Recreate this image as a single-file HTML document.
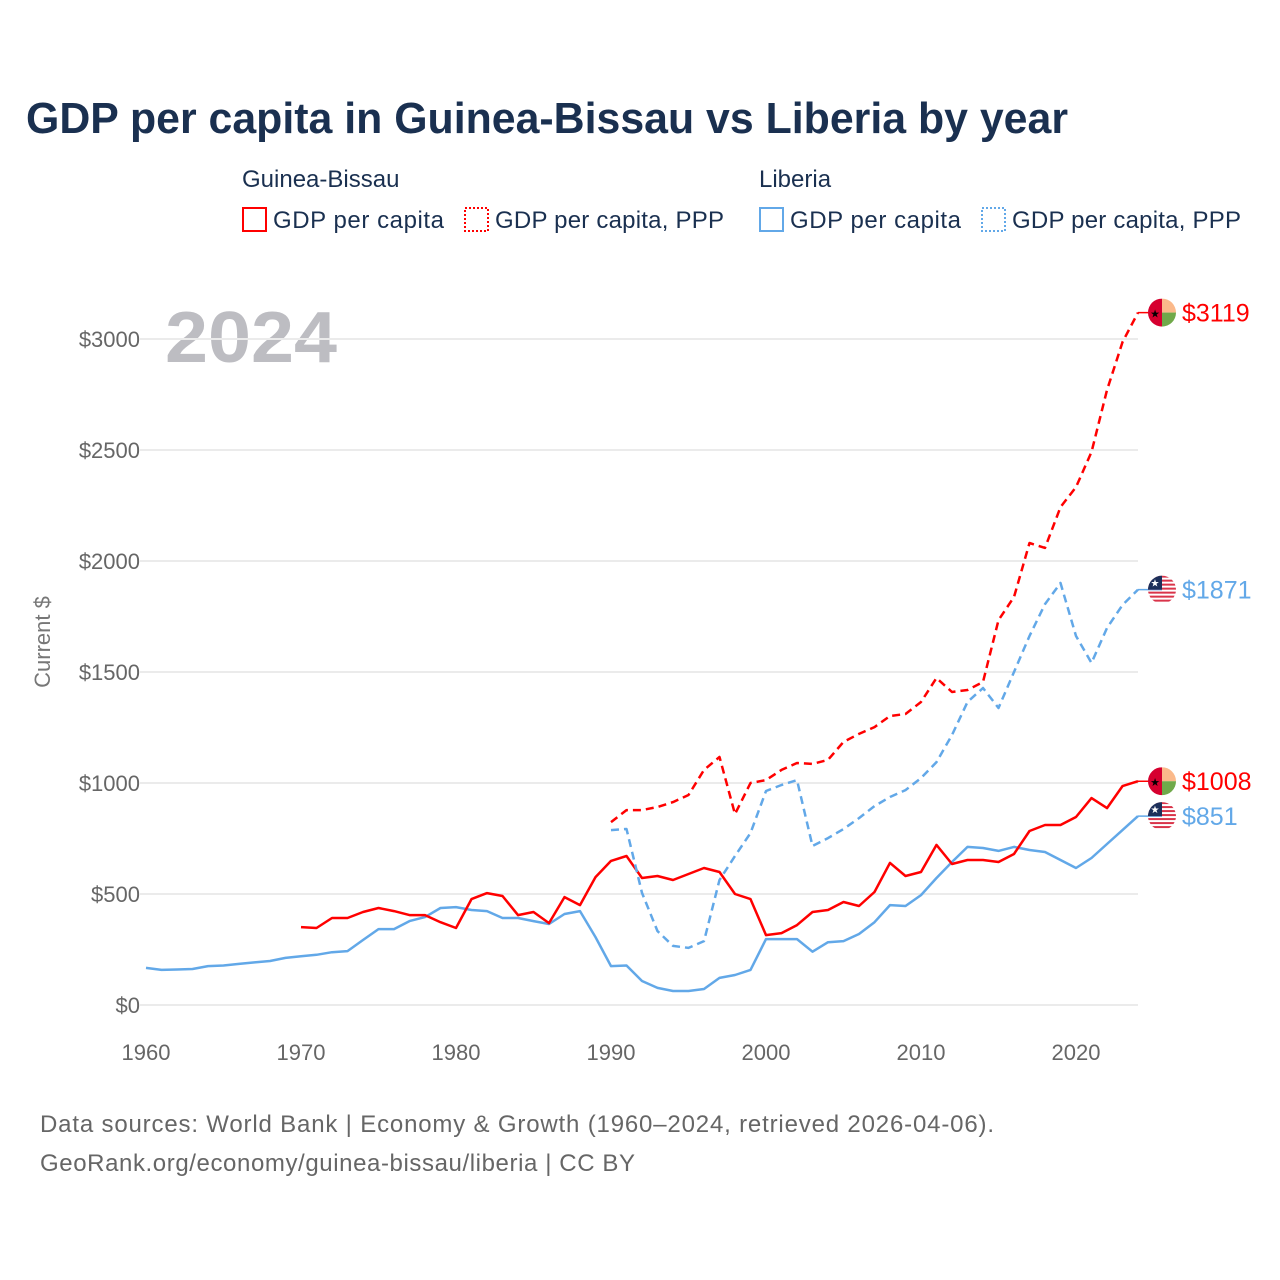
<!DOCTYPE html>
<html><head><meta charset="utf-8"><style>
body{margin:0;background:#fff;font-family:"Liberation Sans",sans-serif}
svg{display:block}
</style></head><body>
<svg width="1280" height="1280" viewBox="0 0 1280 1280" xmlns="http://www.w3.org/2000/svg">
<text x="26" y="133" font-size="44" font-weight="bold" fill="#1a3050" textLength="1042" lengthAdjust="spacingAndGlyphs">GDP per capita in Guinea-Bissau vs Liberia by year</text>
<g font-size="24" fill="#1a3050">
<text x="242" y="187">Guinea-Bissau</text>
<text x="759" y="187">Liberia</text>
<g><rect x="243" y="208" width="23" height="23" fill="none" stroke="#f00" stroke-width="2"/><text x="273" y="228" textLength="171">GDP per capita</text></g>
<g><rect x="465" y="208" width="23" height="23" fill="none" stroke="#f00" stroke-width="2" stroke-dasharray="2,2"/><text x="495" y="228" textLength="229">GDP per capita, PPP</text></g>
<g><rect x="760" y="208" width="23" height="23" fill="none" stroke="#62a8e8" stroke-width="2"/><text x="790" y="228" textLength="171">GDP per capita</text></g>
<g><rect x="982" y="208" width="23" height="23" fill="none" stroke="#62a8e8" stroke-width="2" stroke-dasharray="2,2"/><text x="1012" y="228" textLength="229">GDP per capita, PPP</text></g>
</g>
<text x="165" y="362" font-size="72" font-weight="bold" fill="#bdbdc2" textLength="172" lengthAdjust="spacingAndGlyphs">2024</text>
<g id="grid"></g><g id="axes" font-size="22" fill="#666"></g><g id="lines"></g><g id="ends"></g>
<text transform="translate(50,642) rotate(-90)" text-anchor="middle" font-size="22" fill="#777">Current $</text>
<text x="40" y="1132" font-size="24" fill="#666" textLength="954">Data sources: World Bank | Economy &amp; Growth (1960–2024, retrieved 2026-04-06).</text>
<text x="40" y="1171" font-size="24" fill="#666" textLength="595">GeoRank.org/economy/guinea-bissau/liberia | CC BY</text>
</svg>
<script>
const yTicks=[0,500,1000,1500,2000,2500,3000];
const xTicks=[1960,1970,1980,1990,2000,2010,2020];
const lrGdp=[167,158,160,162,175,178,185,192,198,212,220,226,238,243,293,342,342,378,396,437,441,428,423,392,392,378,365,410,423,306,175,178,108,77,63,63,72,122,135,158,297,297,297,240,283,288,320,373,450,446,495,572,644,712,707,694,712,698,689,653,617,662,725,788,851];
const gbGdp=[351,347,392,392,419,437,423,405,405,373,347,477,504,491,405,419,369,486,450,576,649,671,572,581,563,590,617,599,500,477,315,324,360,419,428,464,446,509,640,581,599,721,635,653,653,644,680,784,811,811,847,932,887,986,1008];
const gbPpp=[824,878,878,892,914,946,1059,1117,860,1000,1013,1059,1090,1086,1104,1185,1221,1252,1302,1311,1365,1473,1410,1419,1455,1734,1838,2081,2059,2243,2333,2491,2770,2986,3119];
const lrPpp=[788,793,505,333,266,257,288,563,671,775,964,991,1013,716,752,793,842,896,937,968,1022,1094,1216,1365,1428,1338,1500,1662,1806,1901,1662,1541,1698,1802,1871];
const X=y=>146+(y-1960)*15.5, Y=v=>1005-v*0.222;
const NS='http://www.w3.org/2000/svg';
function mk(t,a,p){const e=document.createElementNS(NS,t);for(const k in a)e.setAttribute(k,a[k]);p.appendChild(e);return e;}
const grid=document.getElementById('grid'),axes=document.getElementById('axes');
yTicks.forEach(v=>{
 const l=mk('line',{x1:140,x2:1138,y1:Y(v),y2:Y(v),stroke:'#ebebeb','stroke-width':2},grid);
 
 
 const t=mk('text',{x:140,y:Y(v)+8,'text-anchor':'end'},axes);t.textContent='$'+v;
 
 
});
xTicks.forEach(v=>{
 const t=mk('text',{x:X(v),y:1060,'text-anchor':'middle'},axes);t.textContent=v;
 
 
});
const lines=document.getElementById('lines');
function series(arr,start,color,dash,name){
 const d=arr.map((v,i)=>(i?'L':'M')+X(start+i).toFixed(1)+','+Y(v).toFixed(1)).join('');
 const p=mk('path',{d:d,fill:'none',stroke:color,'stroke-width':2.5,'stroke-dasharray':dash,'stroke-linejoin':'round'},lines);
 
 
}
series(lrGdp,1960,'#62a8e8','none','line-liberia-gdp');
series(gbGdp,1970,'#f00','none','line-guinea-bissau-gdp');
series(lrPpp,1990,'#62a8e8','8,5','line-liberia-ppp');
series(gbPpp,1990,'#f00','8,5','line-guinea-bissau-ppp');
const ends=document.getElementById('ends');
function flag(v,type,color,name){
 const cx=1162,cy=Y(v);
 const g=mk('g',{},ends);
 
 
 mk('line',{x1:X(2024),x2:cx,y1:cy,y2:cy,stroke:color,'stroke-width':1.5},g);
 const id='c'+Math.round(v);
 const cp=mk('clipPath',{id:id},g);mk('circle',{cx:cx,cy:cy,r:14},cp);
 const f=mk('g',{'clip-path':'url(#'+id+')'},g);
 if(type==='gb'){
  mk('rect',{x:cx-14,y:cy-14,width:14,height:28,fill:'#d6002f'},f);
  mk('rect',{x:cx,y:cy-14,width:14,height:14,fill:'#fbb98a'},f);
  mk('rect',{x:cx,y:cy,width:14,height:14,fill:'#70a94a'},f);
  const s=mk('text',{x:cx-7,y:cy+5,'font-size':11,'text-anchor':'middle',fill:'#000'},f);s.textContent='★';
 } else {
  for(let i=0;i<7;i++)mk('rect',{x:cx-14,y:cy-14+i*4,width:28,height:2,fill:'#d9344a'},f);
  mk('rect',{x:cx-14,y:cy-14,width:14,height:14,fill:'#1c2f5a'},f);
  const s=mk('text',{x:cx-7,y:cy-3,'font-size':10,'text-anchor':'middle',fill:'#fff'},f);s.textContent='★';
 }
 const t=mk('text',{x:1182,y:cy+9,'font-size':25,fill:color},g);t.textContent='$'+v;
}
flag(gbPpp[gbPpp.length-1],'gb','#f00','end-label-gb-ppp');
flag(lrPpp[lrPpp.length-1],'lr','#62a8e8','end-label-lr-ppp');
flag(gbGdp[gbGdp.length-1],'gb','#f00','end-label-gb-gdp');
flag(lrGdp[lrGdp.length-1],'lr','#62a8e8','end-label-lr-gdp');
</script>
</body></html>
